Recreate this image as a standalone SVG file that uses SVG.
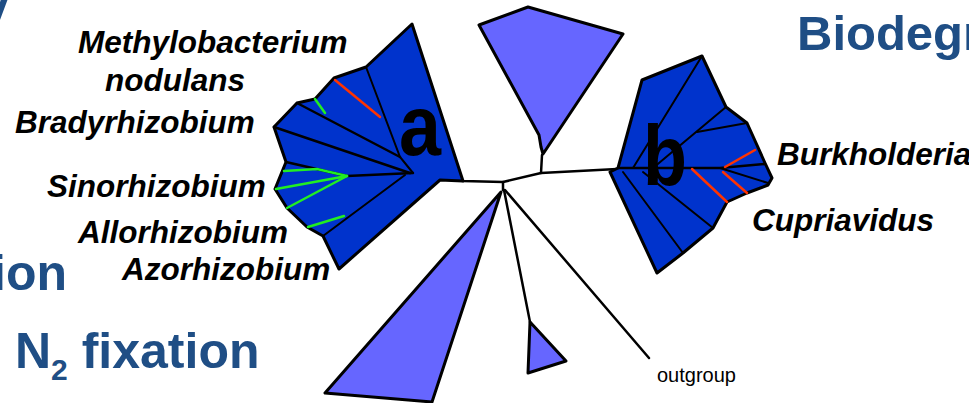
<svg xmlns="http://www.w3.org/2000/svg" width="969" height="403" viewBox="0 0 969 403">
<style>
.lbl{font-family:"Liberation Sans",Arial,sans-serif;font-weight:bold;font-style:italic;font-size:31.5px;fill:#000}
.ttl{font-family:"Liberation Sans",Arial,sans-serif;font-weight:bold;fill:#1f4e85}
.big{font-family:"Liberation Sans",Arial,sans-serif;font-weight:bold;font-size:86px;fill:#000}
.dark{fill:#0033cc;stroke:#000;stroke-width:3;stroke-linejoin:round}
.light{fill:#6666ff;stroke:#000;stroke-width:3;stroke-linejoin:round}
.br{fill:none;stroke:#000;stroke-width:2.5;stroke-linecap:round;stroke-linejoin:round}
.in{fill:none;stroke:#000;stroke-width:2;stroke-linecap:round}
.g{fill:none;stroke:#22ee22;stroke-width:2.5;stroke-linecap:round}
.r{fill:none;stroke:#ff3300;stroke-width:2.5;stroke-linecap:round}
</style>
<rect width="969" height="403" fill="#fff"/>
<g id="titles">
<text class="ttl" x="-17.5" y="20" font-size="50">y</text>
<text class="ttl" x="797" y="50" font-size="49">Biodegr</text>
<text class="ttl" x="-8" y="290" font-size="50">ion</text>
<text class="ttl" x="15" y="368" font-size="50">N<tspan font-size="30" dy="12">2</tspan><tspan dy="-12"> fixation</tspan></text>
</g>
<g id="connectors">
<polyline class="br" points="413,173 463,181 503,182 541,173 617,169"/>
<polyline class="br" points="541,173 542,155"/>
<polyline class="br" points="503,182 503,190"/>
<polyline class="br" points="504,190 530,322"/>
<polyline class="br" points="505,190 649,358"/>
</g>
<g id="clade-top">
<polygon class="light" points="479,25 528,7 623,34 543,154 541,147 539,135"/>
</g>
<g id="clade-large">
<polygon class="light" points="501,192 325,393 432,402"/>
</g>
<g id="clade-small">
<polygon class="light" points="530,322 528,373 566,361"/>
</g>
<g id="clade-a">
<polygon class="dark" points="412,24 463,181 440,180 339,269 323,236 307,227 287,208 275,189 286,162 274,127 297,103 315,99 334,78 366,67"/>
<polyline class="in" points="366,67 400,157 413,173"/>
<polyline class="br" points="297,103 400,157"/>
<polyline class="br" points="274,127 410,173"/>
<polyline class="br" points="286,162 347,176 413,173"/>
<polyline class="in" points="323,236 405,175"/>
<polyline class="g" points="284,171 317,169 347,176"/>
<polyline class="g" points="276,189 347,176"/>
<polyline class="g" points="287,208 347,176"/>
<polyline class="g" points="308,227 344,216"/>
<polyline class="g" points="315,99 325,113"/>
<polyline class="r" points="335,80 380,117"/>
<text class="big" x="399" y="155" textLength="42" lengthAdjust="spacingAndGlyphs">a</text>
</g>
<g id="clade-b">
<polygon class="dark" points="702,56 726,107 747,123 765,163 772,178 768,185 747,193 727,202 713,228 683,253 657,273 610,172 618,168 642,80"/>
<polyline class="in" points="633,168 702,56"/>
<polyline class="in" points="653,168 726,107"/>
<polyline class="in" points="697,132 747,123"/>
<polyline class="br" points="618,168 720,168 765,164"/>
<polyline class="in" points="720,168 768,183"/>
<polyline class="in" points="623,172 683,253"/>
<polyline class="in" points="643,172 713,228"/>
<polyline class="r" points="725,167 755,150"/>
<polyline class="r" points="723,172 747,193"/>
<polyline class="r" points="692,169 727,202"/>
<text class="big" x="643" y="185" textLength="44" lengthAdjust="spacingAndGlyphs">b</text>
</g>
<g id="labels">
<text class="lbl" x="78" y="53">Methylobacterium</text>
<text class="lbl" x="105" y="91">nodulans</text>
<text class="lbl" x="15" y="133">Bradyrhizobium</text>
<text class="lbl" x="47" y="197">Sinorhizobium</text>
<text class="lbl" x="78" y="243">Allorhizobium</text>
<text class="lbl" x="122" y="280">Azorhizobium</text>
<text class="lbl" x="777" y="165">Burkholderia</text>
<text class="lbl" x="752" y="231">Cupriavidus</text>
<text x="657" y="382" font-family="Liberation Sans, Arial, sans-serif" font-size="20" fill="#000">outgroup</text>
</g>
</svg>
